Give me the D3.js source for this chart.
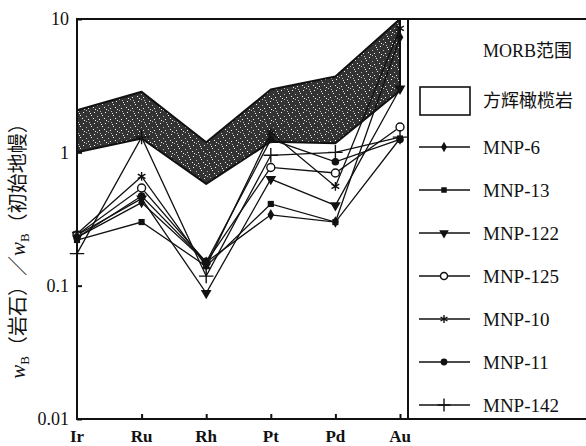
<!DOCTYPE html>
<html>
<head>
<meta charset="utf-8">
<script src="https://cdn.jsdelivr.net/npm/d3@7"></script>
<style>
  body { margin: 0; background: #fff; }
  text { font-family: "Liberation Serif", "Noto Sans CJK SC", serif; fill: #111; }
</style>
</head>
<body>
<script>
let width = 586
let height = 446
let margin = { top: 19, bottom: 27, left: 77, right: 178 }

// data
let elements = ['Ir', 'Ru', 'Rh', 'Pt', 'Pd', 'Au']
let morbUpper = [2.07, 2.85, 1.19, 2.96, 3.7, 10]
let morbLower = [1.0, 1.27, 0.58, 1.2, 1.17, 2.9]
let sampleNames = ['MNP-6', 'MNP-13', 'MNP-122', 'MNP-125', 'MNP-10', 'MNP-11', 'MNP-142']
let mnp6 = [0.23, 0.42, 0.15, 0.34, 0.30, 7.3]
let mnp13 = [0.22, 0.30, 0.14, 0.41, 0.30, 1.27]
let mnp122 = [0.24, 0.45, 0.088, 0.63, 0.40, 3.0]
let mnp125 = [0.24, 0.54, 0.15, 0.77, 0.70, 1.55]
let mnp10 = [0.245, 0.66, 0.14, 1.4, 0.555, 8.5]
let mnp11 = [0.23, 0.47, 0.15, 1.25, 0.85, 1.25]
let mnp142 = [0.174, 1.3, 0.118, 0.95, 1.0, 1.3]
let yTicks = [0.01, 0.1, 1, 10]
let yTickLabels = ['0.01', '0.1', '1', '10']

let sampleValues = [mnp6, mnp13, mnp122, mnp125, mnp10, mnp11, mnp142]
let markers = ['diamond', 'square', 'triangle', 'open', 'asterisk', 'circle', 'plus']

const svg = d3.select('body').append('svg')
  .attr('width', width)
  .attr('height', height)
  .attr('font-family', '"Liberation Serif", "Noto Sans CJK SC", serif')

// stipple pattern for the MORB band
const pat = svg.append('defs').append('pattern')
  .attr('id', 'stipple')
  .attr('width', 11).attr('height', 11)
  .attr('patternUnits', 'userSpaceOnUse')
pat.append('rect').attr('width', 11).attr('height', 11).attr('fill', '#333')
let specks = [[1, 1], [6, 2], [3, 5], [9, 6], [0, 9], [5, 8], [9, 0], [7, 10], [2, 3]]
specks.forEach((s, i) => pat.append('rect')
  .attr('x', s[0]).attr('y', s[1]).attr('width', 1).attr('height', 1)
  .attr('fill', i % 3 === 0 ? '#bbb' : '#f2f2f2'))

let x = d3.scalePoint()
  .domain(elements)
  .range([77, 400])

let y = d3.scaleLog()
  .domain([0.01, 10])
  .range([height - margin.bottom, margin.top])

let plotRight = 408

// MORB band
let band = elements.map((e, i) => ({ e: e, lo: morbLower[i], hi: morbUpper[i] }))
svg.append('path')
  .datum(band)
  .attr('d', d3.area().x(d => x(d.e)).y0(d => y(d.lo)).y1(d => y(d.hi)))
  .attr('fill', 'url(#stipple)')
  .attr('stroke', '#111')
  .attr('stroke-width', 2)
  .attr('stroke-linejoin', 'round')

// sample lines
let line = d3.line().x((d, i) => x(elements[i])).y(d => y(d))
svg.append('g')
  .selectAll('path')
  .data(sampleValues)
  .join('path')
  .attr('d', d => line(d))
  .attr('fill', 'none')
  .attr('stroke', '#111')
  .attr('stroke-width', 1.3)

function drawMarker(g, kind, cx, cy, scale) {
  let s = scale || 1
  let shapes = {
    diamond: [d3.symbolDiamond, 38, true],
    square: [d3.symbolSquare, 38, true],
    triangle: [d3.symbolTriangle, 50, true],
    open: [d3.symbolCircle, 50, false],
    asterisk: [d3.symbolAsterisk, 55, false],
    circle: [d3.symbolCircle, 45, true],
    plus: [d3.symbolPlus, 70, false]
  }
  let sh = shapes[kind]
  let p = g.append('path')
    .attr('d', d3.symbol().type(sh[0]).size(sh[1] * s)())
    .attr('transform', `translate(${cx},${cy})` + (kind === 'triangle' ? ' rotate(180)' : ''))
  if (sh[2]) p.attr('fill', '#111').attr('stroke', 'none')
  else if (kind === 'open') p.attr('fill', '#fff').attr('stroke', '#111').attr('stroke-width', 1.4)
  else p.attr('fill', 'none').attr('stroke', '#111').attr('stroke-width', 1.4)
}

let markG = svg.append('g')
sampleValues.forEach((vals, k) => {
  vals.forEach((v, i) => drawMarker(markG, markers[k], x(elements[i]), y(v)))
})

// frame
svg.append('path')
  .attr('d', `M${width + 5},${y(10)}H${x('Ir')}V${y(0.01)}H${width + 5}M${plotRight},${y(10)}V${y(0.01)}`)
  .attr('fill', 'none')
  .attr('stroke', '#111')
  .attr('stroke-width', 2)

// Y axis
let yAxis = svg.append('g')
  .attr('transform', `translate(${x('Ir')},0)`)
  .call(d3.axisRight(y).tickValues(yTicks).tickSize(5).tickFormat(''))
yAxis.select('.domain').remove()
yAxis.selectAll('line').attr('stroke', '#111').attr('stroke-width', 2)
svg.append('g')
  .selectAll('text')
  .data(yTicks)
  .join('text')
  .attr('x', 69)
  .attr('y', d => y(d))
  .attr('dy', '0.35em')
  .attr('text-anchor', 'end')
  .attr('font-size', 18)
  .text((d, i) => yTickLabels[i])

// X axis
let xAxis = svg.append('g')
  .attr('transform', `translate(0,${y(0.01)})`)
  .call(d3.axisTop(x).tickSize(5).tickFormat(''))
xAxis.select('.domain').remove()
xAxis.selectAll('.tick').filter(d => d === 'Ir').remove()
xAxis.selectAll('line').attr('stroke', '#111').attr('stroke-width', 2)
svg.append('g')
  .selectAll('text')
  .data(elements)
  .join('text')
  .attr('x', d => x(d))
  .attr('y', 442)
  .attr('text-anchor', 'middle')
  .attr('font-size', 17)
  .attr('font-weight', 'bold')
  .text(d => d)

// Y label
let ylab = svg.append('text')
  .attr('transform', 'translate(25,246) rotate(-90)')
  .attr('text-anchor', 'middle')
  .attr('font-size', 20)
ylab.append('tspan').attr('font-style', 'italic').attr('font-size', 21).text('w')
ylab.append('tspan').attr('font-size', 13).attr('dy', 4).text('B')
ylab.append('tspan').attr('dy', -4).attr('font-family', 'Noto Sans CJK SC').text('（岩石）／')
ylab.append('tspan').attr('font-style', 'italic').attr('font-size', 21).text('w')
ylab.append('tspan').attr('font-size', 13).attr('dy', 4).text('B')
ylab.append('tspan').attr('dy', -4).attr('font-family', 'Noto Sans CJK SC').text('（初始地幔）')

// legend
let lg = svg.append('g')
lg.append('text').attr('x', 483).attr('y', 51).attr('dy', '0.35em').attr('font-size', 18).text('MORB范围')
lg.append('rect').attr('x', 420).attr('y', 87).attr('width', 50).attr('height', 28)
  .attr('fill', '#fff').attr('stroke', '#111').attr('stroke-width', 1.6)
lg.append('text').attr('x', 483).attr('y', 101).attr('dy', '0.35em').attr('font-size', 18).text('方辉橄榄岩')

let legendY = d3.scalePoint().domain(sampleNames).range([147, 405])
sampleNames.forEach((n, k) => {
  let ly = legendY(n)
  lg.append('line').attr('x1', 419).attr('x2', 470).attr('y1', ly).attr('y2', ly)
    .attr('stroke', '#111').attr('stroke-width', 1.4)
  drawMarker(lg, markers[k], 444, ly, 0.8)
  lg.append('text').attr('x', 483).attr('y', ly).attr('dy', '0.35em').attr('font-size', 19).text(n)
})
</script>
</body>
</html>
